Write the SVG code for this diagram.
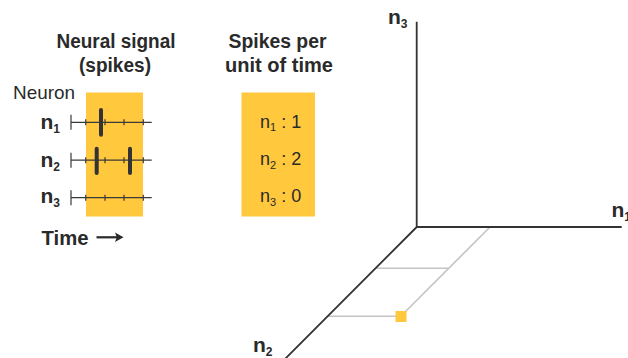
<svg xmlns="http://www.w3.org/2000/svg" width="628" height="358" viewBox="0 0 628 358">
  <style>
    .t { font-family: "Liberation Sans", Arial, sans-serif; fill: #2a2a2a; }
    .b { font-weight: bold; }
    .box { fill: #FFC83D; }
    .tl { stroke: #3a3a3a; stroke-width: 1.3; fill: none; }
    .tk { stroke: #3a3a3a; stroke-width: 1.2; }
    .spike { stroke: #333; stroke-width: 4; stroke-linecap: round; }
    .axis { stroke: #333; stroke-width: 1.8; fill: none; }
    .grid { stroke: #c4c4c4; stroke-width: 1.6; fill: none; }
  </style>
  <rect width="628" height="358" fill="#fff"/>

  <g id="neural-signal">
    <text class="t b" x="116" y="47.5" font-size="20" text-anchor="middle" textLength="119" lengthAdjust="spacingAndGlyphs">Neural signal</text>
    <text class="t b" x="115" y="71.5" font-size="20" text-anchor="middle" textLength="72" lengthAdjust="spacingAndGlyphs">(spikes)</text>
    <text class="t" x="13" y="98.5" font-size="18.5" textLength="62" lengthAdjust="spacingAndGlyphs">Neuron</text>
    <rect class="box" x="86" y="92.5" width="57" height="124"/>
    <!-- n1 -->
    <text class="t b" x="40.5" y="129.3" font-size="21">n<tspan font-size="12" dy="3.5">1</tspan></text>
    <path class="tl" d="M71 122.3H151.7"/>
    <path class="tk" d="M71 114.8V129.8M85.7 119.3V125.3M105 119.3V125.3M124 119.3V125.3M143.3 119.3V125.3"/>
    <line class="spike" x1="101" y1="110" x2="101" y2="134.7"/>
    <!-- n2 -->
    <text class="t b" x="40.5" y="167.3" font-size="21">n<tspan font-size="12" dy="3.5">2</tspan></text>
    <path class="tl" d="M71 160.2H151.7"/>
    <path class="tk" d="M71 152.7V167.7M85.7 157.2V163.2M105 157.2V163.2M124 157.2V163.2M143.3 157.2V163.2"/>
    <line class="spike" x1="96.7" y1="148.7" x2="96.7" y2="173"/>
    <line class="spike" x1="130" y1="148.7" x2="130" y2="173"/>
    <!-- n3 -->
    <text class="t b" x="40.5" y="203" font-size="21">n<tspan font-size="12" dy="3.5">3</tspan></text>
    <path class="tl" d="M71 197.7H151.7"/>
    <path class="tk" d="M71 190.2V205.2M85.7 194.7V200.7M105 194.7V200.7M124 194.7V200.7M143.3 194.7V200.7"/>
    <!-- time -->
    <text class="t b" x="41.5" y="245" font-size="20" textLength="47" lengthAdjust="spacingAndGlyphs">Time</text>
    <path d="M96.5 237.3H118" stroke="#2a2a2a" stroke-width="2.2"/>
    <path d="M123.5 237.3L115 232.6L116.8 237.3L115 242Z" fill="#2a2a2a"/>
  </g>

  <g id="spike-counts">
    <text class="t b" x="277.5" y="47.5" font-size="20" text-anchor="middle" textLength="98" lengthAdjust="spacingAndGlyphs">Spikes per</text>
    <text class="t b" x="279" y="71.5" font-size="20" text-anchor="middle" textLength="108" lengthAdjust="spacingAndGlyphs">unit of time</text>
    <rect class="box" x="241.5" y="92.5" width="73.5" height="124"/>
    <text class="t" x="260" y="127.5" font-size="18">n<tspan font-size="11" dy="3.5">1</tspan><tspan dy="-3.5"> : 1</tspan></text>
    <text class="t" x="260" y="165" font-size="18">n<tspan font-size="11" dy="3.5">2</tspan><tspan dy="-3.5"> : 2</tspan></text>
    <text class="t" x="260" y="202" font-size="18">n<tspan font-size="11" dy="3.5">3</tspan><tspan dy="-3.5"> : 0</tspan></text>
  </g>

  <g id="connectors">
    <path class="grid" d="M490 227L401 316M376.5 268.3H449.5M328 316.2H401"/>
    <path class="axis" d="M416.7 21.7V227H621.7M416.7 227L283 361"/>
  </g>

  <g id="point">
    <rect class="box" x="395.5" y="311" width="11" height="11"/>
  </g>

  <g id="axis-labels">
    <text class="t b" x="388" y="24" font-size="21">n<tspan font-size="12" dy="4">3</tspan></text>
    <text class="t b" x="611.5" y="216.7" font-size="21">n<tspan font-size="12" dy="4">1</tspan></text>
    <text class="t b" x="253" y="351.7" font-size="21">n<tspan font-size="12" dy="4">2</tspan></text>
  </g>
</svg>
